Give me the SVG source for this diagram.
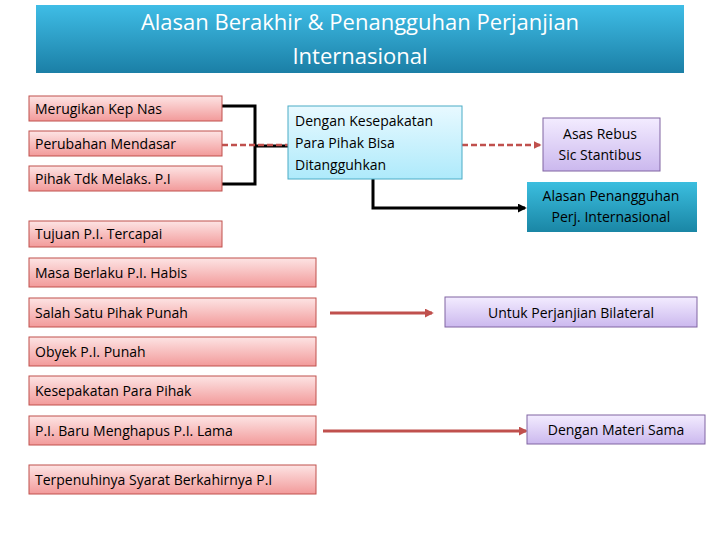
<svg xmlns="http://www.w3.org/2000/svg" width="720" height="540" viewBox="0 0 720 540">
<defs>
<linearGradient id="gT" x1="0" y1="0" x2="0" y2="1"><stop offset="0" stop-color="#3fbde6"/><stop offset="1" stop-color="#1b7fa6"/></linearGradient>
<linearGradient id="gR" x1="0" y1="0" x2="0" y2="1"><stop offset="0" stop-color="#fde4e4"/><stop offset="1" stop-color="#f29a9a"/></linearGradient>
<linearGradient id="gC" x1="0" y1="0" x2="0" y2="1"><stop offset="0" stop-color="#e8f9ff"/><stop offset="1" stop-color="#aeeafb"/></linearGradient>
<linearGradient id="gP" x1="0" y1="0" x2="0" y2="1"><stop offset="0" stop-color="#f3ecff"/><stop offset="1" stop-color="#cbb8ee"/></linearGradient>
<linearGradient id="gB" x1="0" y1="0" x2="0" y2="1"><stop offset="0" stop-color="#3bbedf"/><stop offset="1" stop-color="#1a86a5"/></linearGradient>
<marker id="mr" viewBox="0 0 10 10" refX="8" refY="5" markerWidth="3" markerHeight="3" orient="auto"><path d="M0,0 L10,5 L0,10 z" fill="#c0504d"/></marker>
<marker id="mb" viewBox="0 0 10 10" refX="8" refY="5" markerWidth="3" markerHeight="3" orient="auto"><path d="M0,0 L10,5 L0,10 z" fill="#000"/></marker>
</defs>
<style>
text{font-family:"Open Sans","Liberation Sans",sans-serif;font-size:14px;fill:#000}
.r{fill:url(#gR);stroke:#c0504d;stroke-width:1}
.c{fill:url(#gC);stroke:#4bacc6;stroke-width:1}
.p{fill:url(#gP);stroke:#8064a2;stroke-width:1}
.m{text-anchor:middle}
</style>
<rect width="720" height="540" fill="#fff"/>
<g id="title"><rect x="36" y="5" width="648" height="68" fill="url(#gT)"/>
<text x="360" y="30" class="m" style="font-size:22px;fill:#fff">Alasan Berakhir &amp; Penangguhan Perjanjian</text>
<text x="360" y="64" class="m" style="font-size:22px;fill:#fff">Internasional</text></g>
<g id="connectors" fill="none">
<path d="M222,106 H255 V184 H222" stroke="#000" stroke-width="3"/>
<path d="M255,146 H288" stroke="#000" stroke-width="3"/>
<path d="M222,145 H288" stroke="#c0504d" stroke-width="2.5" stroke-dasharray="6,3"/>
<path d="M462,145 H540" stroke="#c0504d" stroke-width="2.5" stroke-dasharray="6,3" marker-end="url(#mr)"/>
<path d="M373,179 V208 H525" stroke="#000" stroke-width="3" marker-end="url(#mb)"/>
<path d="M330,313 H432" stroke="#c0504d" stroke-width="3" marker-end="url(#mr)"/>
<path d="M323,431 H526" stroke="#c0504d" stroke-width="3" marker-end="url(#mr)"/>
</g>
<g id="n1"><rect class="r" x="29" y="96" width="193" height="25"/><text x="35" y="114">Merugikan Kep Nas</text></g>
<g id="n2"><rect class="r" x="29" y="131" width="193" height="25"/><text x="35" y="149">Perubahan Mendasar</text></g>
<g id="n3"><rect class="r" x="29" y="166" width="193" height="25"/><text x="35" y="184">Pihak  Tdk Melaks. P.I</text></g>
<g id="n4"><rect class="r" x="29" y="221" width="193" height="26"/><text x="35" y="239">Tujuan P.I. Tercapai</text></g>
<g id="n5"><rect class="r" x="29" y="258" width="287" height="29"/><text x="35" y="278">Masa Berlaku P.I. Habis</text></g>
<g id="n6"><rect class="r" x="29" y="298" width="287" height="29"/><text x="35" y="318">Salah Satu Pihak Punah</text></g>
<g id="n7"><rect class="r" x="29" y="337" width="287" height="29"/><text x="35" y="357">Obyek P.I. Punah</text></g>
<g id="n8"><rect class="r" x="29" y="376" width="287" height="29"/><text x="35" y="396">Kesepakatan Para Pihak</text></g>
<g id="n9"><rect class="r" x="29" y="416" width="287" height="29"/><text x="35" y="436">P.I. Baru Menghapus  P.I. Lama</text></g>
<g id="n10"><rect class="r" x="29" y="465" width="287" height="29"/><text x="35" y="485">Terpenuhinya Syarat Berkahirnya P.I</text></g>
<g id="n11"><rect class="c" x="288" y="106" width="174" height="73"/>
<text x="295" y="126">Dengan Kesepakatan</text><text x="295" y="148">Para Pihak Bisa</text><text x="295" y="170">Ditangguhkan</text></g>
<g id="n12"><rect class="p" x="543" y="118" width="117" height="53"/>
<text x="600" y="139" class="m">Asas Rebus</text><text x="600" y="160" class="m">Sic Stantibus</text></g>
<g id="n13"><rect x="527" y="182" width="170" height="50" fill="url(#gB)"/>
<text x="611" y="201" class="m">Alasan Penangguhan</text><text x="611" y="222" class="m">Perj. Internasional</text></g>
<g id="n14"><rect class="p" x="445" y="297" width="252" height="30"/><text x="571" y="318" class="m">Untuk Perjanjian Bilateral</text></g>
<g id="n15"><rect class="p" x="527" y="415" width="178" height="29"/><text x="616" y="435" class="m">Dengan Materi Sama</text></g>
</svg>
